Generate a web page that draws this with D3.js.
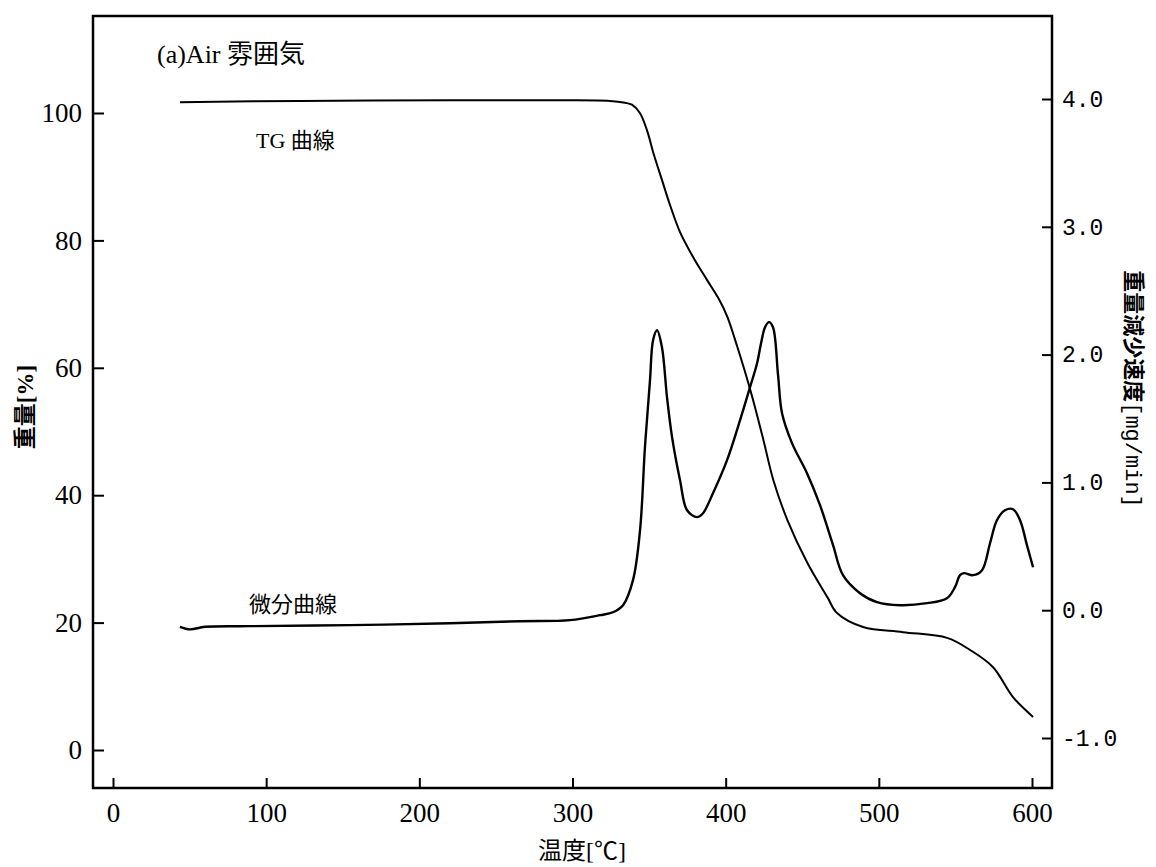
<!DOCTYPE html>
<html>
<head>
<meta charset="utf-8">
<script src="https://cdn.jsdelivr.net/npm/d3@7"></script>
<style>
  body { margin: 0; background: #fff; }
  svg { display: block; }
</style>
</head>
<body>
<div class="chart"></div>
<script>
// temperature axis ticks and both weight axes
var xTicks = [0, 100, 200, 300, 400, 500, 600];
var weightTicks = [0, 20, 40, 60, 80, 100];
var rateTicks = [-1, 0, 1, 2, 3, 4];

// TG curve: temperature [C] vs weight [%]
var tgTemp = [43.7, 122, 220, 292, 324.5, 334.3, 338.8, 344.0, 348.6, 353.2, 358.4, 363.6, 370.2, 378.7,
              387.8, 396.0, 401.1, 407.6, 416.1, 424.6, 431.1, 440.3, 453.3, 466.4, 472.7, 489.7, 515.8,
              544.6, 559.6, 574.6, 587.6, 600.7];
var tgWeight = [101.7, 101.9, 102.0, 102.0, 101.9, 101.6, 101.3, 100.0, 97.3, 93.4, 89.5, 85.6, 81.3, 77.4,
                73.8, 70.6, 68.0, 63.3, 56.5, 48.7, 42.4, 36.1, 29.4, 24.0, 21.5, 19.3, 18.5,
                17.6, 15.7, 13.0, 8.3, 5.2];

// derivative curve: temperature [C] vs weight loss rate [mg/min]
var dtgTemp = [43.7, 50.3, 60.1, 89.4, 154.7, 220.0, 265.7, 298.4, 318.0, 326.4, 333.0, 339.5, 344.1,
               347.3, 350.6, 352.6, 355.2, 358.4, 361.7, 365.0, 370.2, 374.8, 381.3, 385.2, 391.7,
               400.9, 409.4, 415.9, 420.5, 423.1, 425.7, 428.3, 430.9, 434.2, 436.8, 443.3, 453.1,
               461.6, 470.1, 476.6, 487.7, 498.8, 513.8, 531.4, 544.5, 549.7, 553.0, 555.6, 561.5,
               567.4, 572.6, 577.1, 582.4, 587.6, 592.2, 596.7, 600.7];
var dtgRate = [-0.13, -0.15, -0.13, -0.125, -0.117, -0.102, -0.086, -0.078, -0.039, -0.016, 0.039, 0.235, 0.626,
               1.275, 1.80, 2.113, 2.191, 2.058, 1.667, 1.354, 1.017, 0.782, 0.728, 0.759, 0.915,
               1.174, 1.487, 1.745, 1.933, 2.089, 2.214, 2.254, 2.214, 1.839, 1.541, 1.307, 1.072,
               0.822, 0.509, 0.274, 0.133, 0.063, 0.039, 0.055, 0.094, 0.180, 0.274, 0.290, 0.274,
               0.313, 0.524, 0.704, 0.782, 0.790, 0.704, 0.509, 0.336];

var width = 1156, height = 867;
var plotLeft = 93, plotRight = 1052, plotTop = 16, plotBottom = 788;

var serif = "'Liberation Serif', 'Noto Sans CJK JP', serif";
var mono = "'Liberation Mono', 'Noto Sans CJK JP', monospace";

var x = d3.scaleLinear().domain([0, 600]).range([113, 1032]);
var yL = d3.scaleLinear().domain([0, 100]).range([750, 113]);
var yR = d3.scaleLinear().domain([-1, 4]).range([738, 99]);

var svg = d3.select('.chart').append('svg')
  .attr('width', width)
  .attr('height', height)
  .style('background', '#fff');

// axes (ticks point inward)
var gx = svg.append('g')
  .attr('transform', 'translate(0,' + plotBottom + ')')
  .call(d3.axisBottom(x).tickValues(xTicks).tickSizeInner(-10).tickSizeOuter(0).tickPadding(15));

var gl = svg.append('g')
  .attr('transform', 'translate(' + plotLeft + ',0)')
  .call(d3.axisLeft(yL).tickValues(weightTicks).tickSizeInner(-11).tickSizeOuter(0).tickPadding(11));

var gr = svg.append('g')
  .attr('transform', 'translate(' + plotRight + ',0)')
  .call(d3.axisRight(yR).tickValues(rateTicks).tickFormat(d3.format('.1f')).tickSizeInner(-10).tickSizeOuter(0).tickPadding(10));

[gx, gl, gr].forEach(function (g) {
  g.select('.domain').remove();
  g.selectAll('.tick line').attr('stroke', '#000').attr('stroke-width', 2);
  g.selectAll('.tick text').attr('fill', '#000');
});
gx.selectAll('.tick text').style('font-family', serif).style('font-size', '27px');
gl.selectAll('.tick text').style('font-family', serif).style('font-size', '27px');
gr.selectAll('.tick text').style('font-family', mono).style('font-size', '23px')
  .text(function (d) { return d3.format('.1f')(d).replace('\u2212', '-'); });

// frame
svg.append('rect')
  .attr('x', plotLeft).attr('y', plotTop)
  .attr('width', plotRight - plotLeft).attr('height', plotBottom - plotTop)
  .attr('fill', 'none')
  .attr('stroke', '#000')
  .attr('stroke-width', 2.5);

// curves
var tgLine = d3.line()
  .x(function (d, i) { return x(tgTemp[i]); })
  .y(function (d, i) { return yL(tgWeight[i]); })
  .curve(d3.curveCatmullRom.alpha(0.5));

var dtgLine = d3.line()
  .x(function (d, i) { return x(dtgTemp[i]); })
  .y(function (d, i) { return yR(dtgRate[i]); })
  .curve(d3.curveCatmullRom.alpha(0.5));

svg.append('path')
  .attr('d', tgLine(tgTemp))
  .attr('fill', 'none').attr('stroke', '#000').attr('stroke-width', 2);

svg.append('path')
  .attr('d', dtgLine(dtgTemp))
  .attr('fill', 'none').attr('stroke', '#000').attr('stroke-width', 2.4);

// labels
function label(txt, px, py, size, anchor, font) {
  return svg.append('text')
    .attr('x', px).attr('y', py)
    .attr('text-anchor', anchor || 'start')
    .style('font-family', font || serif)
    .style('font-size', size + 'px')
    .attr('fill', '#000')
    .text(txt);
}

label('(a)Air 雰囲気', 157, 63, 26);
label('TG 曲線', 256, 148, 22);
label('微分曲線', 249, 612, 22);
label('温度[℃]', 582, 859, 24, 'middle');

label('重量[%]', 0, 0, 23, 'middle')
  .attr('transform', 'translate(33,407) rotate(-90)')
  .style('font-weight', 'bold');

var rt = svg.append('text')
  .attr('transform', 'translate(1126,389) rotate(90)')
  .attr('text-anchor', 'middle')
  .style('font-size', '22px')
  .style('font-weight', 'bold')
  .attr('fill', '#000');
rt.append('tspan').style('font-family', serif).text('重量減少速度');
rt.append('tspan').style('font-family', mono).style('font-weight', 'normal').text('[mg/min]');
</script>
</body>
</html>
